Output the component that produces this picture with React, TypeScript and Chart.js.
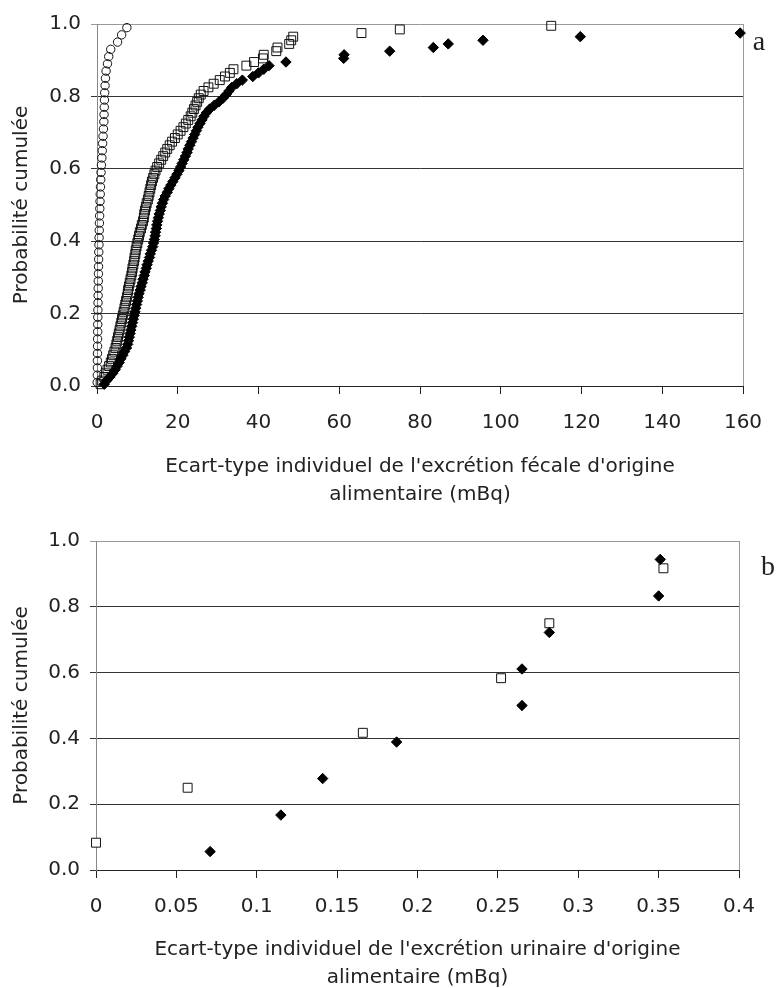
import React, { useEffect, useRef } from "react";
import { Chart, registerables } from "chart.js";
Chart.register(...registerables);

// ---------- Chart a : fecal excretion ----------
const circleX = [0.05,0.08,0.1,0.1,0.12,0.14,0.15,0.17,0.18,0.2,0.22,0.25,0.28,0.3,0.32,0.35,0.38,0.4,0.44,0.48,0.52,0.56,0.6,0.65,0.7,0.75,0.8,0.86,0.92,1.0,1.1,1.2,1.3,1.4,1.5,1.6,1.7,1.75,1.8,1.85,1.9,2.0,2.1,2.25,2.6,2.9,3.4,5.1,6.1,7.4];
const circleY = [0.01,0.03,0.05,0.07,0.09,0.11,0.13,0.15,0.17,0.19,0.21,0.23,0.25,0.27,0.29,0.31,0.33,0.35,0.37,0.39,0.41,0.43,0.45,0.47,0.49,0.51,0.53,0.55,0.57,0.59,0.61,0.63,0.65,0.67,0.69,0.71,0.73,0.75,0.77,0.79,0.81,0.83,0.85,0.87,0.89,0.91,0.93,0.95,0.97,0.99];

const squareX = [0.9,1.3,1.8,2.2,2.6,3.0,3.4,3.7,4.0,4.3,4.6,4.8,5.0,5.2,5.4,5.6,5.8,6.0,6.2,6.4,6.6,6.8,7.0,7.2,7.4,7.6,7.7,7.9,8.1,8.3,8.5,8.7,8.8,9.0,9.2,9.3,9.5,9.6,9.8,10.0,10.2,10.4,10.6,10.9,11.1,11.4,11.6,11.7,11.9,12.1,12.3,12.6,12.8,13.0,13.2,13.4,13.6,13.9,14.2,14.5,14.9,15.4,15.9,16.4,16.9,17.4,18.0,18.6,19.3,20.0,20.7,21.4,22.0,22.6,23.2,23.6,24.0,24.4,24.8,25.2,25.7,26.4,27.6,28.9,30.4,31.7,32.9,33.8,37.0,38.9,41.1,41.3,44.4,44.7,47.6,48.1,48.6,65.5,75.0,112.5];
const squareY = [0.005,0.015,0.025,0.035,0.045,0.055,0.065,0.075,0.085,0.095,0.105,0.115,0.125,0.135,0.145,0.155,0.165,0.175,0.185,0.195,0.205,0.215,0.225,0.235,0.245,0.255,0.265,0.275,0.285,0.295,0.305,0.315,0.325,0.335,0.345,0.355,0.365,0.375,0.385,0.395,0.405,0.415,0.425,0.435,0.445,0.455,0.465,0.475,0.485,0.495,0.505,0.515,0.525,0.535,0.545,0.555,0.565,0.575,0.585,0.595,0.605,0.615,0.625,0.635,0.645,0.655,0.665,0.675,0.685,0.695,0.705,0.715,0.725,0.735,0.745,0.755,0.765,0.775,0.785,0.795,0.805,0.815,0.825,0.835,0.845,0.855,0.865,0.875,0.885,0.895,0.905,0.915,0.925,0.935,0.945,0.955,0.965,0.975,0.985,0.995];

const diamondX = [1.8,2.4,3.2,3.9,4.5,5.0,5.5,5.9,6.4,6.8,7.3,7.6,7.8,8.0,8.2,8.4,8.6,8.8,9.0,9.2,9.4,9.6,9.8,10.0,10.2,10.4,10.7,10.9,11.2,11.4,11.7,11.9,12.2,12.4,12.7,13.0,13.2,13.5,13.8,14.0,14.2,14.4,14.5,14.7,14.8,15.0,15.2,15.4,15.7,15.9,16.2,16.5,16.9,17.4,17.8,18.3,18.8,19.3,19.8,20.3,20.7,21.1,21.5,21.9,22.3,22.6,23.0,23.4,23.8,24.2,24.6,25.0,25.5,26.0,26.5,27.1,27.9,29.0,30.2,31.2,32.0,32.7,33.4,34.6,36.0,38.6,40.0,41.3,42.6,46.8,61.1,61.2,72.5,83.3,87.0,95.6,119.7,159.3];
const diamondY = [0.005,0.015,0.025,0.035,0.045,0.055,0.065,0.075,0.085,0.095,0.105,0.115,0.125,0.135,0.145,0.155,0.165,0.175,0.185,0.195,0.205,0.215,0.225,0.235,0.245,0.255,0.265,0.275,0.285,0.295,0.305,0.315,0.325,0.335,0.345,0.355,0.365,0.375,0.385,0.395,0.405,0.415,0.425,0.435,0.445,0.455,0.465,0.475,0.485,0.495,0.505,0.515,0.525,0.535,0.545,0.555,0.565,0.575,0.585,0.595,0.605,0.615,0.625,0.635,0.645,0.655,0.665,0.675,0.685,0.695,0.705,0.715,0.725,0.735,0.745,0.755,0.765,0.775,0.785,0.795,0.805,0.815,0.825,0.835,0.845,0.855,0.865,0.875,0.885,0.895,0.905,0.915,0.925,0.935,0.945,0.955,0.965,0.975];

// ---------- Chart b : urinary excretion ----------
const uSquareX = [0.0, 0.057, 0.166, 0.252, 0.282, 0.353];
const uSquareY = [0.083, 0.25, 0.417, 0.583, 0.75, 0.917];
const uDiamondX = [0.071, 0.115, 0.141, 0.187, 0.265, 0.265, 0.282, 0.35, 0.351];
const uDiamondY = [0.056, 0.167, 0.278, 0.389, 0.5, 0.611, 0.722, 0.833, 0.944];

const yTitle = "Probabilité cumulée";
const fecalTitle = ["Ecart-type individuel de l'excrétion fécale d'origine", "alimentaire (mBq)"];
const urinTitle = ["Ecart-type individuel de l'excrétion urinaire d'origine", "alimentaire (mBq)"];

const FONT = "'DejaVu Sans', sans-serif";
const TEXT = "#222";

const pts = (xs: number[], ys: number[]) => xs.map((x, i) => ({ x, y: ys[i] }));

const framePlugin = {
  id: "frame",
  beforeDatasetsDraw(chart: any) {
    const { ctx, chartArea } = chart;
    const r = Math.round(chartArea.right) + 0.5;
    ctx.save();
    ctx.strokeStyle = "#999";
    ctx.lineWidth = 1;
    ctx.beginPath();
    ctx.moveTo(r, Math.round(chartArea.top));
    ctx.lineTo(r, Math.round(chartArea.bottom));
    ctx.stroke();
    ctx.restore();
  },
};

function makeConfig(opts: {
  datasets: any[];
  xMax: number;
  xStep: number;
  xTitle: string[];
  padding: any;
  yWidth: number;
  xHeight: number;
  titlePadBottom: number;
}) {
  return {
    type: "scatter",
    data: { datasets: opts.datasets },
    plugins: [framePlugin],
    options: {
      animation: false,
      responsive: false,
      events: [],
      layout: { padding: opts.padding },
      plugins: { legend: { display: false }, tooltip: { enabled: false } },
      scales: {
        x: {
          type: "linear",
          min: 0,
          max: opts.xMax,
          afterFit: (s: any) => { s.height = opts.xHeight; },
          ticks: {
            stepSize: opts.xStep,
            color: TEXT,
            padding: 17,
            font: { family: FONT, size: 20 },
            maxRotation: 0,
            callback: (v: any) => String(Number(Number(v).toFixed(3))),
          },
          grid: { drawOnChartArea: false, drawTicks: true, tickLength: 8, color: "#222" },
          border: { display: true, color: "#222", width: 1 },
          title: {
            display: true,
            text: opts.xTitle,
            color: TEXT,
            font: { family: FONT, size: 20, lineHeight: "28px" },
            padding: { top: 4, bottom: opts.titlePadBottom },
          },
        },
        y: {
          type: "linear",
          min: 0,
          max: 1,
          afterFit: (s: any) => { s.width = opts.yWidth; },
          ticks: {
            stepSize: 0.2,
            color: TEXT,
            padding: 10,
            font: { family: FONT, size: 20 },
            callback: (v: any) => Number(v).toFixed(1),
          },
          grid: {
            drawTicks: true,
            tickLength: 6,
            color: (c: any) => (c.tick && c.tick.value === 1 ? "#999" : "#333"),
          },
          border: { display: true, color: "#888", width: 1 },
          title: {
            display: true,
            text: yTitle,
            color: TEXT,
            font: { family: FONT, size: 20, lineHeight: "24px" },
            padding: { top: 10, bottom: 0 },
          },
        },
      },
    },
  };
}

const diamondStyle = {
  pointStyle: "rectRot",
  pointRadius: 5.2,
  backgroundColor: "#000",
  borderColor: "#000",
  borderWidth: 1,
  clip: false,
};
const squareStyle = {
  pointStyle: "rect",
  pointRadius: 6.3,
  backgroundColor: "rgba(0,0,0,0)",
  borderColor: "#111",
  borderWidth: 1,
  clip: false,
};
const circleStyle = {
  pointStyle: "circle",
  pointRadius: 4.2,
  backgroundColor: "rgba(0,0,0,0)",
  borderColor: "#111",
  borderWidth: 1,
  clip: false,
};

function ChartCanvas({ config, top, height }: { config: any; top: number; height: number }) {
  const ref = useRef<HTMLCanvasElement | null>(null);
  useEffect(() => {
    if (!ref.current) return;
    const chart = new Chart(ref.current, config);
    return () => chart.destroy();
  }, []);
  return (
    <canvas
      ref={ref}
      width={781}
      height={height}
      style={{ position: "absolute", left: 0, top, width: 781, height }}
    />
  );
}

export default function App() {
  const configA = makeConfig({
    datasets: [
      { label: "a-diamonds", data: pts(diamondX, diamondY), ...diamondStyle },
      { label: "a-squares", data: pts(squareX, squareY), ...squareStyle },
      { label: "a-circles", data: pts(circleX, circleY), ...circleStyle },
    ],
    xMax: 160,
    xStep: 20,
    xTitle: fecalTitle,
    padding: { left: 0, right: 38, top: 24, bottom: 0 },
    yWidth: 97,
    xHeight: 129,
    titlePadBottom: 6,
  });
  const configB = makeConfig({
    datasets: [
      { label: "b-diamonds", data: pts(uDiamondX, uDiamondY), ...diamondStyle },
      { label: "b-squares", data: pts(uSquareX, uSquareY), ...squareStyle, backgroundColor: "#fff" },
    ],
    xMax: 0.4,
    xStep: 0.05,
    xTitle: urinTitle,
    padding: { left: 0, right: 42, top: 26, bottom: 0 },
    yWidth: 96,
    xHeight: 118,
    titlePadBottom: -4,
  });
  const letter: React.CSSProperties = {
    position: "absolute",
    fontFamily: "'Liberation Serif', 'DejaVu Serif', serif",
    fontSize: 28,
    lineHeight: 1,
    color: "#222",
    transform: "translate(-50%, -50%)",
  };
  return (
    <div style={{ position: "absolute", left: 0, top: 0, width: 781, height: 988, background: "#fff" }}>
      <ChartCanvas config={configA} top={0} height={515} />
      <ChartCanvas config={configB} top={515} height={473} />
      <div style={{ ...letter, left: 759, top: 41 }}>a</div>
      <div style={{ ...letter, left: 768, top: 566 }}>b</div>
    </div>
  );
}
